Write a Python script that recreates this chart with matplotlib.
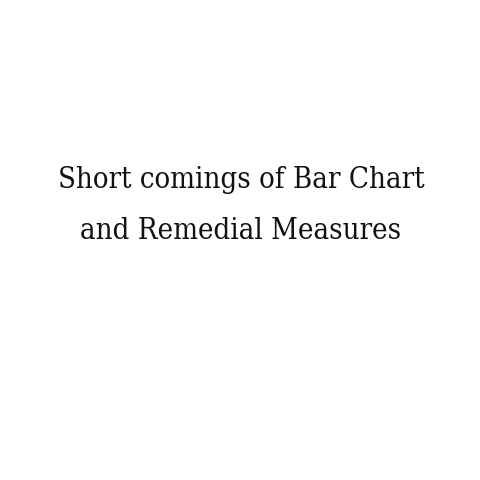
import matplotlib
matplotlib.use("Agg")
import matplotlib.pyplot as plt

title_lines = ["Short comings of Bar Chart", "and Remedial Measures"]
line_y = [0.625, 0.518]

fig = plt.figure(figsize=(4.8, 4.8), dpi=100)
fig.patch.set_facecolor("white")

for text, y in zip(title_lines, line_y):
    fig.text(0.502, y, text, ha="center", va="center",
             fontsize=21, family="DejaVu Serif", fontstretch="condensed",
             color="#111111")

fig.savefig("out.png", dpi=100, facecolor="white")
